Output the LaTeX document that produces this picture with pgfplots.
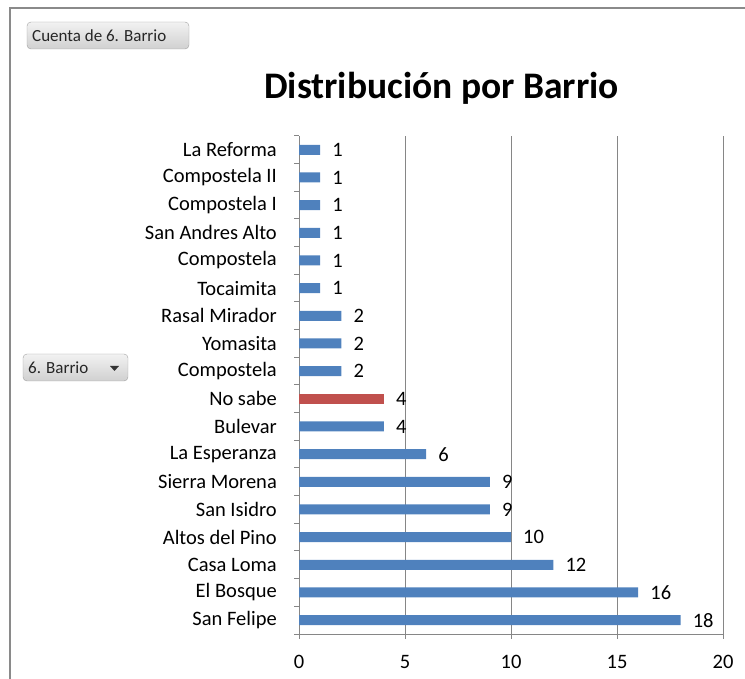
\documentclass[border=0pt]{standalone}
\usepackage{fontspec}
\setmainfont{Carlito}
\usepackage{pgfplots}
\pgfplotsset{compat=1.18}

\definecolor{barblue}{HTML}{4F81BD}
\definecolor{barred}{HTML}{C0504D}
\definecolor{axgray}{HTML}{868686}
\definecolor{framegray}{HTML}{8A8A8A}
\definecolor{btnborder}{HTML}{A0A0A0}
\definecolor{btntop}{HTML}{F2F2F2}
\definecolor{btnbot}{HTML}{D0D0D0}

\newcommand{\lblfont}{\fontsize{20.5bp}{24bp}\selectfont}

\begin{document}
\begin{tikzpicture}
\path[use as bounding box] (0bp,0bp) rectangle (745bp,679bp);
% chart area border (left and top only)
\draw[framegray, line width=2bp] (10bp,0bp) -- (10bp,671bp) -- (745bp,671bp);

% title
\node[anchor=base, font=\fontsize{37.5bp}{44bp}\selectfont\bfseries] at (441.5bp,580bp) {Distribución por Barrio};

% pivot field buttons
\draw[btnborder, rounded corners=4bp, top color=btntop, bottom color=btnbot] (27bp,630bp) rectangle (189bp,657bp);
\node[anchor=west, inner sep=0pt, text=black!85, font=\fontsize{17bp}{20bp}\selectfont] at (32bp,643.5bp) {Cuenta de 6. Barrio};
\draw[btnborder, rounded corners=4bp, top color=btntop, bottom color=btnbot] (23bp,298bp) rectangle (128bp,325bp);
\node[anchor=west, inner sep=0pt, text=black!85, font=\fontsize{17bp}{20bp}\selectfont] at (28bp,311.5bp) {6. Barrio};
\fill[black!80] (110bp,313bp) -- (119bp,313bp) -- (114.5bp,308bp) -- cycle;

\begin{axis}[
  at={(299bp,45bp)}, anchor=south west,
  width=424bp, height=498bp, scale only axis,
  xbar, bar width=10bp, bar shift=0pt,
  xmin=0, xmax=20, ymin=-0.5, ymax=17.5,
  axis lines=left, axis line style={-, draw=axgray, line width=1bp},
  xtick={0,5,10,15,20}, minor xtick={0,5,10,15,20},
  ytick={0,...,17}, minor ytick={-0.5,0.5,...,17.5},
  yticklabels={San Felipe,El Bosque,Casa Loma,Altos del Pino,San Isidro,Sierra Morena,La Esperanza,Bulevar,No sabe,Compostela,Yomasita,Rasal Mirador,Tocaimita,Compostela,San Andres Alto,Compostela I,Compostela II,La Reforma},
  major tick length=0pt, minor tick length=5bp,
  tick align=outside,
  tick style={draw=axgray, line width=1bp},
  xmajorgrids, grid style={draw=axgray, line width=1bp},
  ticklabel style={font=\lblfont, text=black},
  /pgf/number format/assume math mode=true,
  yticklabel style={inner sep=0pt, xshift=-22bp},
  xticklabel style={inner sep=0pt, yshift=-21bp},
  nodes near coords,
  nodes near coords style={font=\lblfont, text=black, anchor=west, inner sep=0pt, xshift=12bp},
  clip=false,
]
\addplot[fill=barblue, draw=none] coordinates {
  (18,0) (16,1) (12,2) (10,3) (9,4) (9,5) (6,6) (4,7)
  (2,9) (2,10) (2,11) (1,12) (1,13) (1,14) (1,15) (1,16) (1,17)
};
\addplot[fill=barred, draw=none] coordinates {(4,8)};
\end{axis}
\end{tikzpicture}
\end{document}
